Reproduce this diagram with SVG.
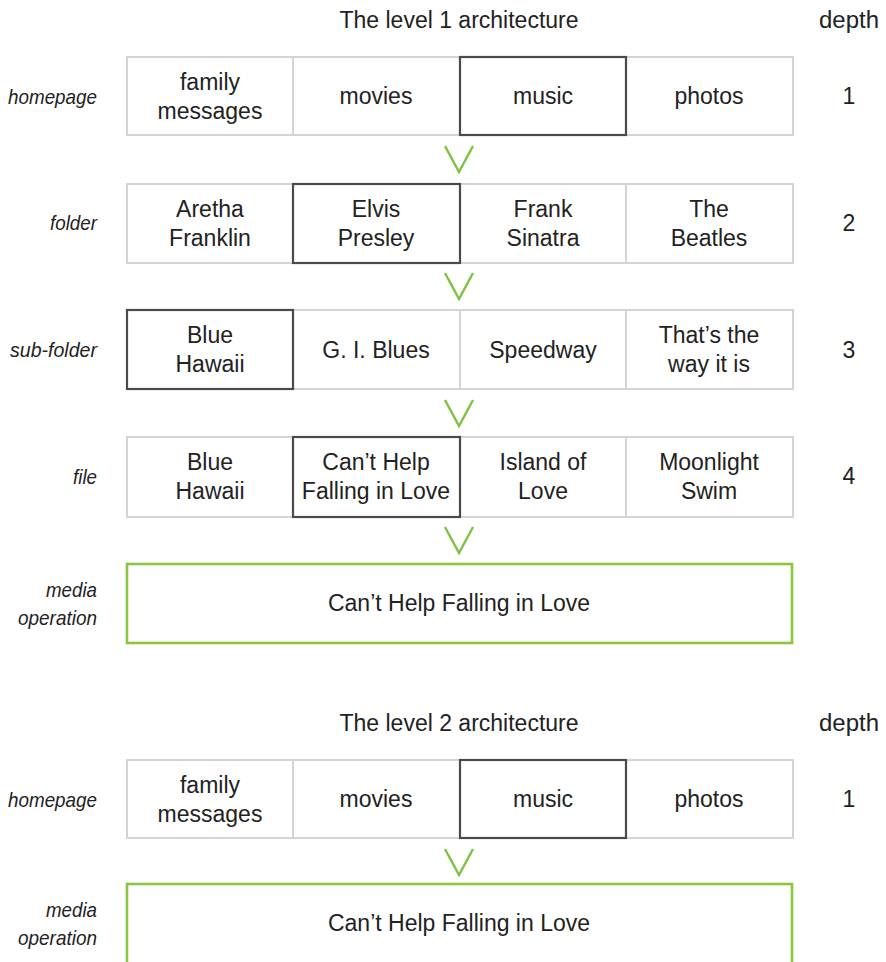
<svg xmlns="http://www.w3.org/2000/svg" width="886" height="962" viewBox="0 0 886 962">
  <style>
    text { font-family: "Liberation Sans", Arial, sans-serif; fill: #222; }
    .title { font-size: 23px; text-anchor: middle; }
    .depth { font-size: 23px; }
    .num { font-size: 23px; text-anchor: middle; }
    .lbl { font-size: 21px; font-style: italic; text-anchor: end; }
    .cell-t { font-size: 23px; text-anchor: middle; }
    .grid { fill: #fff; stroke: #d4d4d4; stroke-width: 2; }
    .sel { fill: none; stroke: #4a4a4a; stroke-width: 2.2; }
    .media { fill: #fff; stroke: #8cc63f; stroke-width: 2.6; }
    .chev { fill: none; stroke: #7dc242; stroke-width: 2.4; }
  </style>

  <!-- Level 1 architecture -->
  <text class="title" x="459" y="28">The level 1 architecture</text>
  <text class="depth" x="819" y="28" textLength="60" lengthAdjust="spacingAndGlyphs">depth</text>

  <!-- depth 1: homepage -->
  <g id="l1-homepage">
    <text class="lbl" x="97" y="104" textLength="89" lengthAdjust="spacingAndGlyphs">homepage</text>
    <rect class="grid" x="127" y="57" width="666" height="78"/>
    <line class="grid" x1="293" y1="57" x2="293" y2="135"/>
    <line class="grid" x1="460" y1="57" x2="460" y2="135"/>
    <line class="grid" x1="626" y1="57" x2="626" y2="135"/>
    <rect class="sel" x="460" y="57" width="166" height="78"/>
    <text class="cell-t" x="210" y="90">family</text>
    <text class="cell-t" x="210" y="119">messages</text>
    <text class="cell-t" x="376" y="104">movies</text>
    <text class="cell-t" x="543" y="104">music</text>
    <text class="cell-t" x="709" y="104">photos</text>
    <text class="num" x="849" y="104">1</text>
  </g>

  <!-- depth 2: folder -->
  <g id="l1-folder">
    <text class="lbl" x="97" y="230" textLength="47" lengthAdjust="spacingAndGlyphs">folder</text>
    <rect class="grid" x="127" y="184" width="666" height="79"/>
    <line class="grid" x1="293" y1="184" x2="293" y2="263"/>
    <line class="grid" x1="460" y1="184" x2="460" y2="263"/>
    <line class="grid" x1="626" y1="184" x2="626" y2="263"/>
    <rect class="sel" x="293" y="184" width="167" height="79"/>
    <text class="cell-t" x="210" y="217">Aretha</text>
    <text class="cell-t" x="210" y="246">Franklin</text>
    <text class="cell-t" x="376" y="217">Elvis</text>
    <text class="cell-t" x="376" y="246">Presley</text>
    <text class="cell-t" x="543" y="217">Frank</text>
    <text class="cell-t" x="543" y="246">Sinatra</text>
    <text class="cell-t" x="709" y="217">The</text>
    <text class="cell-t" x="709" y="246">Beatles</text>
    <text class="num" x="849" y="231">2</text>
  </g>

  <!-- depth 3: sub-folder -->
  <g id="l1-subfolder">
    <text class="lbl" x="97" y="357" textLength="87" lengthAdjust="spacingAndGlyphs">sub-folder</text>
    <rect class="grid" x="127" y="310" width="666" height="79"/>
    <line class="grid" x1="293" y1="310" x2="293" y2="389"/>
    <line class="grid" x1="460" y1="310" x2="460" y2="389"/>
    <line class="grid" x1="626" y1="310" x2="626" y2="389"/>
    <rect class="sel" x="127" y="310" width="166" height="79"/>
    <text class="cell-t" x="210" y="343">Blue</text>
    <text class="cell-t" x="210" y="372">Hawaii</text>
    <text class="cell-t" x="376" y="358">G. I. Blues</text>
    <text class="cell-t" x="543" y="358">Speedway</text>
    <text class="cell-t" x="709" y="343">That’s the</text>
    <text class="cell-t" x="709" y="372">way it is</text>
    <text class="num" x="849" y="358">3</text>
  </g>

  <!-- depth 4: file -->
  <g id="l1-file">
    <text class="lbl" x="97" y="484" textLength="24" lengthAdjust="spacingAndGlyphs">file</text>
    <rect class="grid" x="127" y="437" width="666" height="80"/>
    <line class="grid" x1="293" y1="437" x2="293" y2="517"/>
    <line class="grid" x1="460" y1="437" x2="460" y2="517"/>
    <line class="grid" x1="626" y1="437" x2="626" y2="517"/>
    <rect class="sel" x="293" y="437" width="167" height="80"/>
    <text class="cell-t" x="210" y="470">Blue</text>
    <text class="cell-t" x="210" y="499">Hawaii</text>
    <text class="cell-t" x="376" y="470">Can’t Help</text>
    <text class="cell-t" x="376" y="499">Falling in Love</text>
    <text class="cell-t" x="543" y="470">Island of</text>
    <text class="cell-t" x="543" y="499">Love</text>
    <text class="cell-t" x="709" y="470">Moonlight</text>
    <text class="cell-t" x="709" y="499">Swim</text>
    <text class="num" x="849" y="484">4</text>
  </g>

  <!-- media operation -->
  <g id="l1-media">
    <text class="lbl" x="97" y="597" textLength="51" lengthAdjust="spacingAndGlyphs">media</text>
    <text class="lbl" x="97" y="625" textLength="79" lengthAdjust="spacingAndGlyphs">operation</text>
    <rect class="media" x="127" y="564" width="665" height="79"/>
    <text class="cell-t" x="459" y="611">Can’t Help Falling in Love</text>
  </g>

  <!-- Level 2 architecture -->
  <text class="title" x="459" y="731">The level 2 architecture</text>
  <text class="depth" x="819" y="731" textLength="60" lengthAdjust="spacingAndGlyphs">depth</text>

  <g id="l2-homepage">
    <text class="lbl" x="97" y="807" textLength="89" lengthAdjust="spacingAndGlyphs">homepage</text>
    <rect class="grid" x="127" y="760" width="666" height="78"/>
    <line class="grid" x1="293" y1="760" x2="293" y2="838"/>
    <line class="grid" x1="460" y1="760" x2="460" y2="838"/>
    <line class="grid" x1="626" y1="760" x2="626" y2="838"/>
    <rect class="sel" x="460" y="760" width="166" height="78"/>
    <text class="cell-t" x="210" y="793">family</text>
    <text class="cell-t" x="210" y="822">messages</text>
    <text class="cell-t" x="376" y="807">movies</text>
    <text class="cell-t" x="543" y="807">music</text>
    <text class="cell-t" x="709" y="807">photos</text>
    <text class="num" x="849" y="807">1</text>
  </g>

  <g id="l2-media">
    <text class="lbl" x="97" y="917" textLength="51" lengthAdjust="spacingAndGlyphs">media</text>
    <text class="lbl" x="97" y="945" textLength="79" lengthAdjust="spacingAndGlyphs">operation</text>
    <rect class="media" x="127" y="884" width="665" height="82"/>
    <text class="cell-t" x="459" y="931">Can’t Help Falling in Love</text>
  </g>

  <!-- connectors: chevrons between levels -->
  <g id="connectors">
    <polyline class="chev" points="445,146 459,172 473,146"/>
    <polyline class="chev" points="445,273 459,299 473,273"/>
    <polyline class="chev" points="445,400 459,426 473,400"/>
    <polyline class="chev" points="445,527 459,553 473,527"/>
    <polyline class="chev" points="445,849 459,875 473,849"/>
  </g>
</svg>
